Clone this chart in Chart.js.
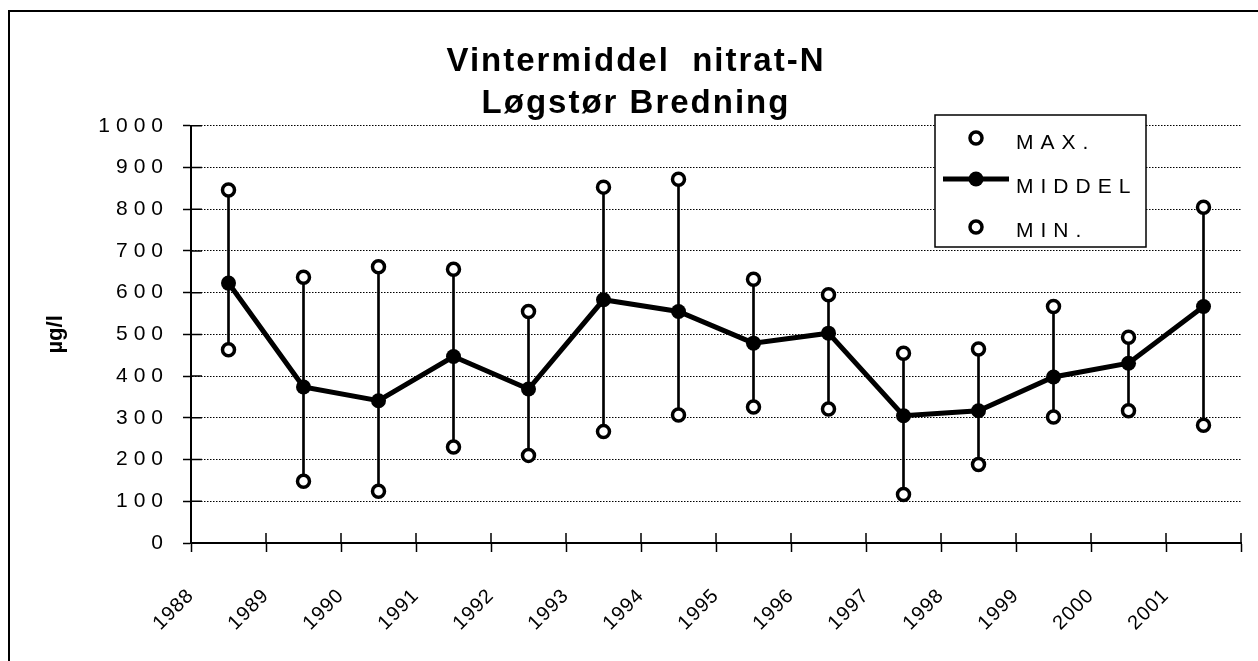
<!DOCTYPE html>
<html>
<head>
<meta charset="utf-8">
<script src="https://cdn.jsdelivr.net/npm/chart.js@4.4.1/dist/chart.umd.min.js"></script>
<style>html,body{margin:0;padding:0;background:#fff;overflow:hidden}canvas{display:block}</style>
</head>
<body>
<canvas id="c" width="1258" height="661"></canvas>
<script>
// ---- data ----
const titleLines = ['Vintermiddel  nitrat-N', 'Løgstør Bredning'];
const yAxisTitle = 'µg/l';
const years = [1988, 1989, 1990, 1991, 1992, 1993, 1994, 1995, 1996, 1997, 1998, 1999, 2000, 2001];
const tickLabels = ['1988', '1989', '1990', '1991', '1992', '1993', '1994', '1995', '1996', '1997', '1998', '1999', '2000', '2001'];
const maxValues = [846, 637, 662, 656, 555, 853, 872, 632, 595, 455, 465, 567, 493, 805];
const middelValues = [623, 374, 341, 447, 369, 583, 555, 479, 503, 305, 317, 398, 431, 567];
const minValues = [463, 148, 124, 230, 210, 267, 307, 326, 321, 116, 188, 302, 317, 282];
const seriesNames = ['MAX.', 'MIDDEL', 'MIN.'];

const FONT = '"Liberation Sans", Arial, Helvetica, sans-serif';
const centre = y => y + 0.5; // points sit in the middle of each year's interval

// ---- plugins ----
const framePlugin = {
  id: 'frame',
  beforeDraw(chart) {
    const ctx = chart.ctx;
    ctx.save();
    ctx.fillStyle = '#fff';
    ctx.fillRect(0, 0, chart.width, chart.height);
    ctx.strokeStyle = '#000';
    ctx.lineWidth = 2;
    ctx.strokeRect(9, 11, chart.width + 40, chart.height + 40);
    ctx.restore();
  }
};

const spacingPlugin = {
  id: 'letterSpacing',
  beforeDraw(chart) {
    const patch = (obj, key, sp) => {
      if (!obj || obj['_sp_' + key]) return;
      const orig = obj[key];
      obj[key] = function (...args) {
        const ctx = chart.ctx;
        const prev = ctx.letterSpacing;
        ctx.letterSpacing = sp;
        try { return orig.apply(this, args); } finally { ctx.letterSpacing = prev; }
      };
      obj['_sp_' + key] = true;
    };
    patch(chart.scales.y, 'drawLabels', '6px');
    patch(chart.scales.x, 'drawLabels', '1px');
    patch(chart.titleBlock, 'draw', '2px');
  }
};

const innerTicksPlugin = {
  id: 'innerTicks',
  beforeDatasetsDraw(chart) {
    const {ctx, chartArea: a, scales: {x, y}} = chart;
    ctx.save();
    ctx.strokeStyle = '#000';
    ctx.lineWidth = 1.5;
    ctx.beginPath();
    x.ticks.forEach(t => { const px = x.getPixelForValue(t.value); ctx.moveTo(px, a.bottom); ctx.lineTo(px, a.bottom - 10); });
    y.ticks.forEach(t => { const py = y.getPixelForValue(t.value); ctx.moveTo(a.left, py); ctx.lineTo(a.left + 11, py); });
    ctx.stroke();
    ctx.restore();
  }
};

const boxLegendPlugin = {
  id: 'boxLegend',
  afterDraw(chart, args, opts) {
    const ctx = chart.ctx;
    const b = opts.box;
    ctx.save();
    ctx.fillStyle = '#fff';
    ctx.fillRect(b.x, b.y, b.w, b.h);
    ctx.strokeStyle = '#000';
    ctx.lineWidth = 1.5;
    ctx.strokeRect(b.x, b.y, b.w, b.h);
    opts.rows.forEach(row => {
      const ds = chart.data.datasets[row.dataset];
      if (ds.showLine !== false) {
        ctx.strokeStyle = ds.borderColor;
        ctx.lineWidth = ds.borderWidth;
        ctx.beginPath();
        ctx.moveTo(opts.lineX0, row.markerY);
        ctx.lineTo(opts.lineX1, row.markerY);
        ctx.stroke();
      }
      ctx.beginPath();
      ctx.arc(opts.markerX, row.markerY, ds.pointRadius, 0, Math.PI * 2);
      ctx.fillStyle = ds.pointBackgroundColor;
      ctx.fill();
      if (ds.pointBorderWidth) {
        ctx.lineWidth = ds.pointBorderWidth;
        ctx.strokeStyle = ds.pointBorderColor;
        ctx.stroke();
      }
      ctx.fillStyle = '#000';
      ctx.font = '21px ' + FONT;
      ctx.letterSpacing = '7px';
      ctx.textAlign = 'left';
      ctx.textBaseline = 'alphabetic';
      ctx.fillText(ds.label, opts.textX, row.baseline);
    });
    ctx.restore();
  }
};

// ---- chart ----
new Chart(document.getElementById('c'), {
  type: 'line',
  data: {
    datasets: [
      {
        label: seriesNames[0],
        type: 'line',
        data: years.map((y, i) => ({x: centre(y), y: maxValues[i]})),
        showLine: false,
        pointRadius: 6,
        pointBorderWidth: 3.5,
        pointBackgroundColor: '#fff',
        pointBorderColor: '#000',
        order: 1
      },
      {
        label: seriesNames[1],
        type: 'line',
        data: years.map((y, i) => ({x: centre(y), y: middelValues[i]})),
        borderColor: '#000',
        borderWidth: 5,
        pointRadius: 7.5,
        pointBorderWidth: 0,
        pointBackgroundColor: '#000',
        pointBorderColor: '#000',
        tension: 0,
        order: 2
      },
      {
        label: seriesNames[2],
        type: 'line',
        data: years.map((y, i) => ({x: centre(y), y: minValues[i]})),
        showLine: false,
        pointRadius: 6,
        pointBorderWidth: 3.5,
        pointBackgroundColor: '#fff',
        pointBorderColor: '#000',
        order: 1
      },
      {
        label: 'range',
        type: 'bar',
        data: years.map((y, i) => ({x: centre(y), y: [minValues[i], maxValues[i]]})),
        backgroundColor: '#000',
        borderWidth: 0,
        barThickness: 2,
        order: 3
      }
    ]
  },
  options: {
    responsive: false,
    animation: false,
    devicePixelRatio: 1,
    layout: {padding: {left: 31, right: 17, top: 0, bottom: 0}},
    scales: {
      x: {
        type: 'linear',
        min: 1988,
        max: 2002,
        offset: false,
        grid: {display: true, drawOnChartArea: false, drawTicks: true, tickLength: 9, tickWidth: 1.5, tickColor: '#000', color: '#000', offset: false},
        border: {display: true, color: '#000', width: 2},
        ticks: {
          stepSize: 1, autoSkip: false, maxTicksLimit: 30, minRotation: 45, maxRotation: 45, padding: 32,
          color: '#000', font: {family: FONT, size: 20},
          callback: v => tickLabels[Math.round(v) - years[0]] ?? ''
        },
        afterFit: s => { s.height = 118; s.paddingLeft = 0; s.paddingRight = 0; }
      },
      y: {
        min: 0,
        max: 1000,
        grid: {color: '#000', lineWidth: 1, drawTicks: true, tickLength: 8, tickWidth: 1.5, tickColor: '#000'},
        border: {display: true, color: '#000', width: 2, dash: [1.5, 1.5]},
        ticks: {stepSize: 100, padding: 14, color: '#000', font: {family: FONT, size: 21}, callback: v => String(v)},
        title: {display: true, text: yAxisTitle, color: '#000', font: {family: FONT, size: 22, weight: 'bold'}, padding: {top: 12, bottom: 0}},
        afterFit: s => { s.width = 160; }
      }
    },
    plugins: {
      legend: {display: false},
      tooltip: {enabled: false},
      title: {
        display: true,
        text: titleLines,
        color: '#000',
        font: {family: FONT, size: 33, weight: 'bold', lineHeight: 1.3},
        padding: {top: 40, bottom: 0}
      },
      boxLegend: {
        box: {x: 935, y: 115, w: 211, h: 132},
        markerX: 976,
        lineX0: 943,
        lineX1: 1009,
        textX: 1016,
        rows: [
          {dataset: 0, markerY: 138, baseline: 149},
          {dataset: 1, markerY: 179, baseline: 193},
          {dataset: 2, markerY: 227, baseline: 237}
        ]
      }
    }
  },
  plugins: [framePlugin, spacingPlugin, innerTicksPlugin, boxLegendPlugin]
});
</script>
</body>
</html>
